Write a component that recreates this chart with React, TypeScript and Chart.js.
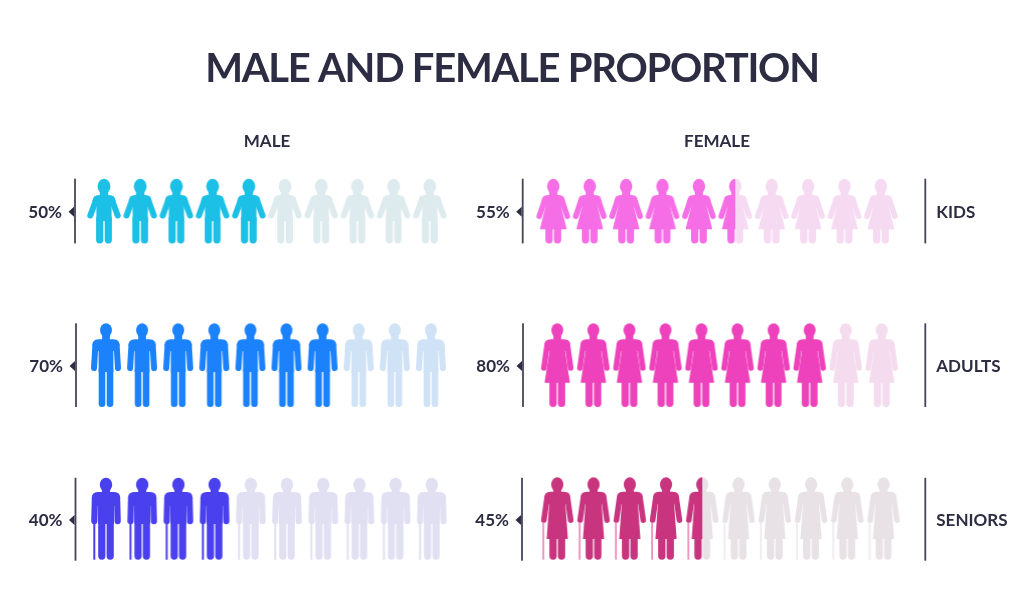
import React, { useEffect, useRef } from "react";
import { Chart, registerables } from "chart.js";

Chart.register(...registerables);

const chartTitle = "MALE AND FEMALE PROPORTION";
const groups = ["KIDS", "ADULTS", "SENIORS"];
const genders = ["MALE", "FEMALE"];
const malePercent = [50, 70, 40];
const femalePercent = [55, 80, 45];
const figuresPerRow = 10;

const maleStrong = ["#1cc0e6", "#1b82fb", "#4a40ee"];
const maleFaded = ["#deebee", "#d0e2f5", "#e0e0f2"];
const femaleStrong = ["#f56ee6", "#ee42bc", "#c9347f"];
const femaleFaded = ["#f5daf2", "#f4dcee", "#e8e2e7"];
const femaleCane = "#e878b0";
const femaleCaneFaded = "#ebe6ea";
const INK = "#2c2c42";
const RULE = "#45455a";
const FONT = 'Lato, "Open Sans", sans-serif';

// layout of each block of figures (start and pitch along the hidden x axis)
const maleStart = [104, 106, 106];
const malePitch = [36.2, 36.1, 36.2];
const femaleStart = [553.3, 557.3, 557.3];
const femalePitch = [36.4, 36.05, 36.25];
const maleRuleX = [75, 76, 75.5];
const femaleRuleX = [522.7, 523, 522];
const rightRuleX = 925.3;

type Shape = {
  female: boolean; top: number; headW: number; headH: number; shoulderTop: number;
  shoulder: number; armOuter: number; armT: number; armBottom: number; torso: number;
  legHalf: number; legW: number; split: number; slit: number; skirt?: number; skirtBottom?: number;
  bottom: number; caneX?: number; caneW?: number;
};

const maleShapes: Shape[] = [
  { female: false, top: -32.3, headW: 12.8, headH: 15, shoulderTop: -16, shoulder: 11.4, armOuter: 16.7, armT: 6, armBottom: 7.5, torso: 7.6, legHalf: 7.9, legW: 7.2, split: 8, slit: -5, bottom: 32.4 },
  { female: false, top: -41.7, headW: 11.8, headH: 14, shoulderTop: -25.7, shoulder: 13.6, armOuter: 15, armT: 6, armBottom: 6, torso: 7.4, legHalf: 7.3, legW: 6.6, split: 5, slit: -14, bottom: 42 },
  { female: false, top: -41.2, headW: 12.4, headH: 14, shoulderTop: -27, shoulder: 14.2, armOuter: 14.8, armT: 6.2, armBottom: 5.2, torso: 8, legHalf: 7.8, legW: 7.2, split: 3, slit: -13, bottom: 40.7, caneX: -12.7, caneW: 2 },
];
const femaleShapes: Shape[] = [
  { female: true, top: -32.3, headW: 12.4, headH: 15, shoulderTop: -16, shoulder: 11.6, armOuter: 16.8, armT: 5.6, armBottom: 8, torso: 7.4, legHalf: 7.9, legW: 7.3, split: 16, slit: -5, skirt: 13.4, skirtBottom: 18.3, bottom: 32.4 },
  { female: true, top: -41.7, headW: 11.8, headH: 14, shoulderTop: -25.7, shoulder: 13, armOuter: 16.2, armT: 5.6, armBottom: 5.8, torso: 7.6, legHalf: 7.9, legW: 7.3, split: 16, slit: -14, skirt: 12.7, skirtBottom: 17.7, bottom: 42 },
  { female: true, top: -41.7, headW: 12.2, headH: 14.5, shoulderTop: -27.3, shoulder: 13, armOuter: 16.2, armT: 5.6, armBottom: 4, torso: 8, legHalf: 7.9, legW: 7.3, split: 18, slit: -15, skirt: 10.6, skirtBottom: 20, bottom: 40.7, caneX: -14.7, caneW: 1.5 },
];

function paintFigure(ctx: CanvasRenderingContext2D, s: Shape, fill: string, caneFill: string) {
  ctx.fillStyle = fill;
  ctx.strokeStyle = fill;
  ctx.lineCap = "round";
  ctx.lineJoin = "round";
  // head and neck
  ctx.beginPath();
  ctx.ellipse(0, s.top + s.headH / 2, s.headW / 2, s.headH / 2, 0, 0, Math.PI * 2);
  ctx.fill();
  ctx.fillRect(-s.headW * 0.33, s.top + s.headH - 4, s.headW * 0.66, s.shoulderTop - s.top - s.headH + 7);
  // arms
  const curve = 6;
  const y0 = s.shoulderTop + curve;
  const y1 = s.armBottom - s.armT / 2;
  const x0 = s.shoulder - s.armT / 2;
  const x1 = s.armOuter - s.armT / 2;
  ctx.lineWidth = s.armT;
  for (const side of [-1, 1]) {
    ctx.beginPath();
    ctx.moveTo(side * x0, y0);
    ctx.lineTo(side * x1, y1);
    ctx.stroke();
  }
  // rounded shoulders, down to where the arms part from the body
  const xs = x0 + ((x1 - x0) * (s.slit - y0)) / (y1 - y0);
  ctx.beginPath();
  ctx.moveTo(-s.shoulder, y0);
  ctx.quadraticCurveTo(-s.shoulder, s.shoulderTop, -s.shoulder + curve, s.shoulderTop);
  ctx.lineTo(s.shoulder - curve, s.shoulderTop);
  ctx.quadraticCurveTo(s.shoulder, s.shoulderTop, s.shoulder, y0);
  ctx.lineTo(xs, s.slit);
  ctx.lineTo(-xs, s.slit);
  ctx.closePath();
  ctx.fill();
  // torso / dress
  ctx.beginPath();
  if (s.female) {
    ctx.moveTo(-s.torso, s.slit - 1);
    ctx.lineTo(-s.skirt!, s.skirtBottom!);
    ctx.lineTo(s.skirt!, s.skirtBottom!);
    ctx.lineTo(s.torso, s.slit - 1);
  } else {
    ctx.moveTo(-s.torso, s.slit - 1);
    ctx.lineTo(-s.torso, s.split + 2);
    ctx.lineTo(s.torso, s.split + 2);
    ctx.lineTo(s.torso, s.slit - 1);
  }
  ctx.closePath();
  ctx.fill();
  // legs
  ctx.lineWidth = s.legW;
  for (const side of [-1, 1]) {
    ctx.beginPath();
    ctx.moveTo(side * (s.legHalf - s.legW / 2), s.split);
    ctx.lineTo(side * (s.legHalf - s.legW / 2), s.bottom - s.legW / 2);
    ctx.stroke();
  }
  if (s.caneX !== undefined) {
    ctx.fillStyle = caneFill;
    ctx.fillRect(s.caneX, s.armBottom - 1, s.caneW!, s.bottom - s.armBottom + 1);
  }
}

function makeSprite(s: Shape, strong: string, faded: string, caneStrong: string, caneFaded: string, part: number) {
  const c = document.createElement("canvas");
  c.width = 50;
  c.height = 100;
  const ctx = c.getContext("2d")!;
  ctx.translate(25, 50);
  if (part < 1) paintFigure(ctx, s, faded, caneFaded);
  if (part > 0) {
    ctx.save();
    ctx.beginPath();
    ctx.rect(-25, -50, 50 * part, 100);
    ctx.clip();
    if (part < 1) ctx.clearRect(-25, -50, 50, 100);
    paintFigure(ctx, s, strong, caneStrong);
    ctx.restore();
  }
  return c;
}

function buildDataset(label: string, percent: number, row: number, start: number, pitch: number, s: Shape, strong: string, faded: string, caneStrong: string, caneFaded: string) {
  const data: { x: number; y: number }[] = [];
  const styles: HTMLCanvasElement[] = [];
  for (let i = 0; i < figuresPerRow; i++) {
    data.push({ x: start + i * pitch, y: row });
    const part = Math.max(0, Math.min(1, (percent * figuresPerRow) / 100 - i));
    styles.push(makeSprite(s, strong, faded, caneStrong, caneFaded, part));
  }
  return { label, data, pointStyle: styles, pointRadius: 10, showLine: false };
}

const labelsPlugin = {
  id: "pictogramLabels",
  beforeDraw(chart: any) {
    // the title is drawn before the datasets; tighten its tracking
    chart.ctx.letterSpacing = "-1.25px";
  },
  beforeDatasetsDraw(chart: any) {
    chart.ctx.letterSpacing = "0px";
  },
  afterDatasetsDraw(chart: any) {
    const { ctx } = chart;
    const xs = chart.scales.x;
    const ys = chart.scales.y;
    ctx.save();
    ctx.fillStyle = INK;
    ctx.textBaseline = "middle";
    ctx.font = `bold 17px ${FONT}`;
    ctx.textAlign = "center";
    ctx.fillText(genders[0], xs.getPixelForValue(267), 141.5);
    ctx.fillText(genders[1], xs.getPixelForValue(717), 141.5);

    groups.forEach((g, r) => {
      const cy = ys.getPixelForValue(r);
      const top = cy + maleShapes[r].top;
      const bottom = cy + maleShapes[r].bottom + (r === 2 ? 1 : 0);
      const rule = (x: number) => {
        ctx.fillStyle = RULE;
        ctx.fillRect(x - 0.9, top, 1.8, bottom - top);
      };
      const marker = (x: number, y: number) => {
        ctx.fillStyle = INK;
        ctx.beginPath();
        ctx.moveTo(x - 1, y - 5);
        ctx.lineTo(x - 6.5, y);
        ctx.lineTo(x - 1, y + 5);
        ctx.closePath();
        ctx.fill();
      };
      const my = cy + (r === 0 ? 0.7 : 1);
      rule(maleRuleX[r]);
      rule(femaleRuleX[r]);
      rule(rightRuleX);
      marker(maleRuleX[r], my);
      marker(femaleRuleX[r], my);
      ctx.fillStyle = INK;
      ctx.font = `bold 17px ${FONT}`;
      ctx.textAlign = "right";
      ctx.fillText(`${malePercent[r]}%`, maleRuleX[r] - 13, my + 0.6);
      ctx.fillText(`${femalePercent[r]}%`, femaleRuleX[r] - 13, my + 0.6);
      ctx.textAlign = "left";
      ctx.fillText(g, rightRuleX + 11, my + 0.6);
    });
    ctx.restore();
  },
};

export default function App() {
  const ref = useRef<HTMLCanvasElement>(null);
  useEffect(() => {
    const datasets: any[] = [];
    groups.forEach((g, r) => {
      datasets.push(buildDataset(`${genders[0]} ${g}`, malePercent[r], r, maleStart[r], malePitch[r], maleShapes[r], maleStrong[r], maleFaded[r], maleStrong[r], maleFaded[r]));
      datasets.push(buildDataset(`${genders[1]} ${g}`, femalePercent[r], r, femaleStart[r], femalePitch[r], femaleShapes[r], femaleStrong[r], femaleFaded[r], femaleCane, femaleCaneFaded));
    });
    const chart = new Chart(ref.current!, {
      type: "scatter",
      data: { datasets },
      plugins: [labelsPlugin],
      options: {
        animation: false,
        responsive: false,
        events: [],
        layout: { padding: 0, autoPadding: false },
        scales: {
          x: { type: "linear", min: 0, max: 1024, display: false },
          y: { type: "linear", min: -0.656, max: 2.617, reverse: true, display: false },
        },
        plugins: {
          legend: { display: false },
          tooltip: { enabled: false },
          title: {
            display: true,
            text: chartTitle,
            color: INK,
            align: "center",
            font: { family: FONT, size: 40, weight: "bold", lineHeight: 1.2 },
            padding: { top: 45, bottom: 17 },
          },
        },
      },
    } as any);
    return () => chart.destroy();
  }, []);
  return (
    <div style={{ position: "fixed", left: 0, top: 0, width: 1024, height: 614, background: "#ffffff" }}>
      <canvas ref={ref} width={1024} height={614} style={{ display: "block", width: 1024, height: 614 }} />
    </div>
  );
}
